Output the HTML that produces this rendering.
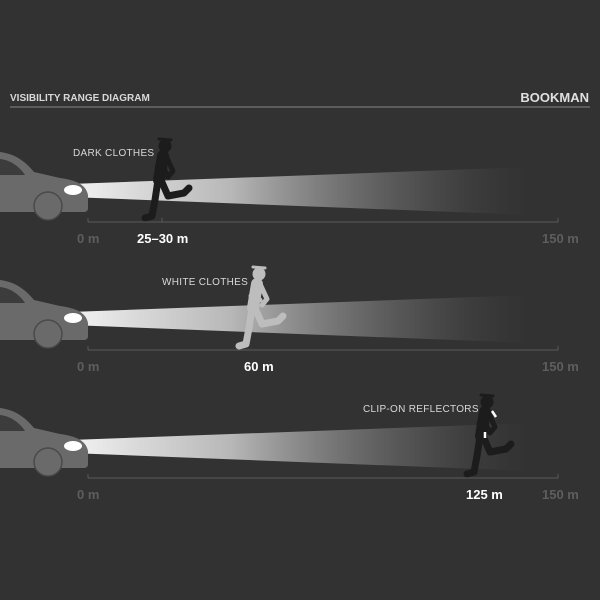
<!DOCTYPE html>
<html><head><style>
html,body{margin:0;padding:0;background:#323232;}
svg{display:block}
text{font-family:"Liberation Sans",Arial,sans-serif;}
</style></head><body>
<svg width="600" height="600" viewBox="0 0 600 600" xmlns="http://www.w3.org/2000/svg">
<defs>
<linearGradient id="beam" x1="0" y1="0" x2="1" y2="0">
<stop offset="0" stop-color="#f4f4f4" stop-opacity="1"/>
<stop offset="0.35" stop-color="#cfcfcf" stop-opacity="0.85"/>
<stop offset="0.75" stop-color="#8a8a8a" stop-opacity="0.35"/>
<stop offset="1" stop-color="#555" stop-opacity="0"/>
</linearGradient>
<g id="row">
<path d="M70,184 L530,167 L530,215 L70,197 Z" fill="url(#beam)"/>
<path d="M0,152 C15,154 25,161 34,172 L60,178 C75,180 86,184 88,195 L88,208 C88,211 86,212 84,212 L0,212 Z" fill="#6a6a6a"/>
<path d="M0,159 C10,160 19,166 25,175 L0,175 Z" fill="#3c3c3c"/>
<circle cx="48" cy="206" r="14" fill="#6a6a6a" stroke="#4a4a4a" stroke-width="1.5"/>
<ellipse cx="73" cy="190" rx="9" ry="5" fill="#fff"/>
<line x1="88" y1="222" x2="558" y2="222" stroke="#5a5a5a" stroke-width="1"/>
<line x1="88" y1="218" x2="88" y2="222" stroke="#5a5a5a"/>
<line x1="558" y1="218" x2="558" y2="222" stroke="#5a5a5a"/>
<text x="77" y="243" font-size="13" font-weight="bold" fill="#5e5e5e">0 m</text>
<text x="542" y="243" font-size="13" font-weight="bold" fill="#5e5e5e">150 m</text>
</g>
<g id="runner" stroke-linecap="round" stroke-linejoin="round" fill="none" stroke="currentColor">
<circle cx="3" cy="-72" r="6.5" fill="currentColor" stroke="none"/>
<path d="M-3,-79 L9,-78" stroke-width="3"/>
<path d="M1,-62 L-3,-38" stroke-width="12"/>
<path d="M1,-60 L-5,-50 L4,-46" stroke-width="5"/>
<path d="M5,-60 L11,-47 L6,-41" stroke-width="5"/>
<path d="M-4,-38 L-7,-18 L-10,-2 L-17,0" stroke-width="7"/>
<path d="M-1,-38 L6,-22 L22,-25 L27,-30" stroke-width="7"/>
</g>
</defs>
<text x="10" y="101" font-size="10" font-weight="bold" fill="#d8d8d8">VISIBILITY RANGE DIAGRAM</text>
<text x="589" y="102" font-size="13" font-weight="bold" fill="#e0e0e0" text-anchor="end">BOOKMAN</text>
<line x1="10" y1="107" x2="590" y2="107" stroke="#6a6a6a" stroke-width="1.5"/>

<use href="#row"/>
<use href="#row" y="128"/>
<use href="#row" y="256"/>

<g color="#1c1c1c"><use href="#runner" transform="translate(162,218)"/></g>
<line x1="162" y1="218" x2="162" y2="222" stroke="#5a5a5a"/>
<text x="73" y="156" font-size="10" fill="#d8d8d8" letter-spacing="0.3">DARK CLOTHES</text>
<text x="137" y="243" font-size="13" font-weight="bold" fill="#fff">25–30 m</text>

<g color="#bdbdbd"><use href="#runner" transform="translate(256,346)"/></g>
<text x="162" y="285" font-size="10" fill="#d8d8d8" letter-spacing="0.3">WHITE CLOTHES</text>
<text x="244" y="371" font-size="13" font-weight="bold" fill="#fff">60 m</text>

<g color="#1c1c1c"><use href="#runner" transform="translate(484,474)"/></g>
<line x1="492" y1="411" x2="496" y2="417" stroke="#fff" stroke-width="2.5"/>
<line x1="485" y1="432" x2="485" y2="438" stroke="#fff" stroke-width="2.5"/>
<text x="363" y="412" font-size="10" fill="#d8d8d8" letter-spacing="0.3">CLIP-ON REFLECTORS</text>
<text x="466" y="499" font-size="13" font-weight="bold" fill="#fff">125 m</text>
</svg>
</body></html>
